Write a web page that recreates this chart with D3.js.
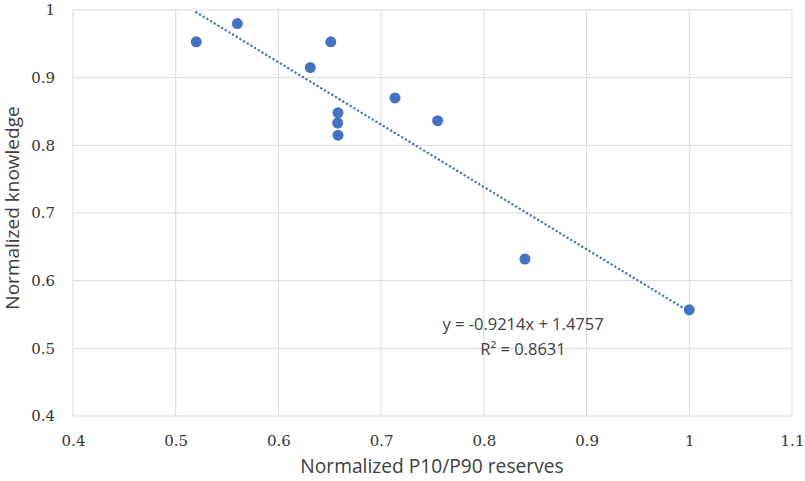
<!DOCTYPE html>
<html>
<head>
<meta charset="utf-8">
<script src="https://cdn.jsdelivr.net/npm/d3@7"></script>
<style>
  body { margin: 0; background: #fff; }
</style>
</head>
<body>
<div id="chart"></div>
<script>
// data
var reservesX = [0.520, 0.560, 0.651, 0.631, 0.7135, 0.755, 0.658, 0.6577, 0.658, 0.840, 1.000];
var knowledgeY = [0.953, 0.980, 0.953, 0.915, 0.870, 0.8365, 0.848, 0.833, 0.815, 0.632, 0.557];
var xTicks = [0.4, 0.5, 0.6, 0.7, 0.8, 0.9, 1, 1.1];
var yTicks = [0.4, 0.5, 0.6, 0.7, 0.8, 0.9, 1];
var trendSlope = -0.9214;
var trendIntercept = 1.4757;
var trendLabel = "y = -0.9214x + 1.4757";
var r2Label = "R\u00b2 = 0.8631";

var width = 805, height = 481;
var margin = {top: 10, right: 13, bottom: 65, left: 73};

var svg = d3.select("#chart").append("svg")
  .attr("width", width)
  .attr("height", height);

var x = d3.scaleLinear().domain([0.4, 1.1]).range([margin.left, width - margin.right]);
var y = d3.scaleLinear().domain([0.4, 1]).range([height - margin.bottom, margin.top]);

// gridlines
svg.append("g")
  .selectAll("line")
  .data(xTicks)
  .enter().append("line")
  .attr("x1", function(d) { return x(d); })
  .attr("x2", function(d) { return x(d); })
  .attr("y1", y(0.4))
  .attr("y2", y(1))
  .attr("stroke", "#d9d9d9")
  .attr("stroke-width", 1);

svg.append("g")
  .selectAll("line")
  .data(yTicks)
  .enter().append("line")
  .attr("x1", x(0.4))
  .attr("x2", x(1.1))
  .attr("y1", function(d) { return y(d); })
  .attr("y2", function(d) { return y(d); })
  .attr("stroke", "#d9d9d9")
  .attr("stroke-width", 1);

// axes (labels only)
var xAxis = svg.append("g")
  .attr("transform", "translate(0," + y(0.4) + ")")
  .call(d3.axisBottom(x).tickValues(xTicks).tickSize(0).tickPadding(19).tickFormat(d3.format("")));
xAxis.select(".domain").remove();
xAxis.selectAll("text")
  .attr("font-family", "DejaVu Serif, serif")
  .attr("font-size", 15)
  .attr("fill", "#333");

var yAxis = svg.append("g")
  .attr("transform", "translate(" + x(0.4) + ",0)")
  .call(d3.axisLeft(y).tickValues(yTicks).tickSize(0).tickPadding(18).tickFormat(d3.format("")));
yAxis.select(".domain").remove();
yAxis.selectAll("text")
  .attr("font-family", "DejaVu Serif, serif")
  .attr("font-size", 15)
  .attr("fill", "#333");

// axis titles
svg.append("text")
  .attr("x", 432)
  .attr("y", 473)
  .attr("text-anchor", "middle")
  .attr("font-family", "Open Sans, sans-serif")
  .attr("font-size", 19.2)
  .attr("fill", "#404040")
  .text("Normalized P10/P90 reserves");

svg.append("text")
  .attr("transform", "translate(19,208) rotate(-90)")
  .attr("text-anchor", "middle")
  .attr("font-family", "Open Sans, sans-serif")
  .attr("font-size", 19)
  .attr("fill", "#404040")
  .text("Normalized knowledge");

// trendline
var xMin = d3.min(reservesX), xMax = d3.max(reservesX);
var trend = [xMin, xMax].map(function(v) { return {x: v, y: trendSlope * v + trendIntercept}; });
svg.append("path")
  .datum(trend)
  .attr("d", d3.line().x(function(d) { return x(d.x); }).y(function(d) { return y(d.y); }))
  .attr("fill", "none")
  .attr("stroke", "#4472C4")
  .attr("stroke-width", 2.4)
  .attr("stroke-linecap", "round")
  .attr("stroke-dasharray", "0.1,4.2");

// points
var pts = reservesX.map(function(v, i) { return {x: v, y: knowledgeY[i]}; });
svg.append("g")
  .selectAll("circle")
  .data(pts)
  .enter().append("circle")
  .attr("cx", function(d) { return x(d.x); })
  .attr("cy", function(d) { return y(d.y); })
  .attr("r", 5.5)
  .attr("fill", "#4472C4");

// equation label
svg.append("text")
  .attr("x", 523)
  .attr("y", 330)
  .attr("text-anchor", "middle")
  .attr("font-family", "Open Sans, sans-serif")
  .attr("font-size", 16.5)
  .attr("fill", "#404040")
  .text(trendLabel);
svg.append("text")
  .attr("x", 523)
  .attr("y", 355)
  .attr("text-anchor", "middle")
  .attr("font-family", "Open Sans, sans-serif")
  .attr("font-size", 16.5)
  .attr("fill", "#404040")
  .text(r2Label);
</script>
</body>
</html>
